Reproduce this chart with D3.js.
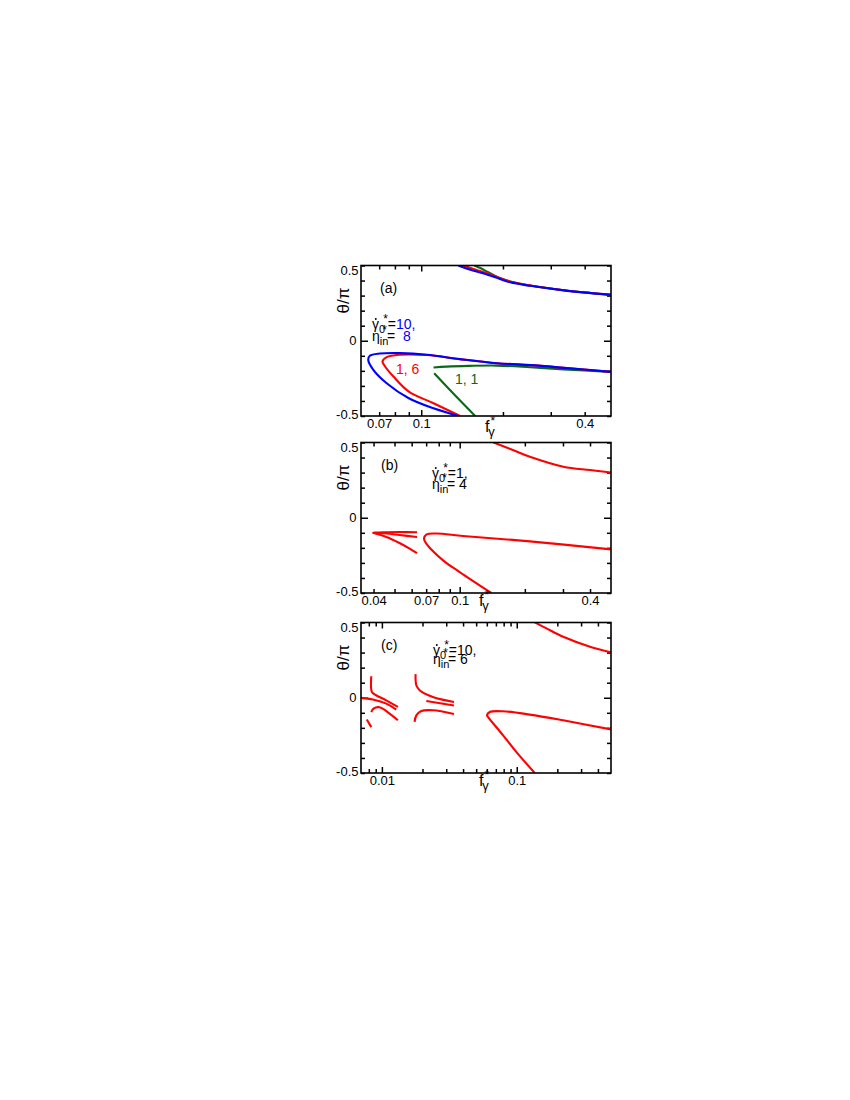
<!DOCTYPE html>
<html><head><meta charset="utf-8">
<script src="https://cdn.jsdelivr.net/npm/d3@7"></script>
<style>
body{margin:0;background:#fff}
svg{display:block}
text{font-family:"Liberation Sans",Arial,Helvetica,sans-serif}
</style>
</head><body>
<svg id="chart" width="850" height="1100"></svg>
<script>
// ---------------- data ----------------
const thetaTicks = [-0.5,-0.4,-0.3,-0.2,-0.1,0,0.1,0.2,0.3,0.4,0.5];
const thetaLabels = [-0.5,0,0.5];
const majorF = [0.01,0.1];

const aDomain = [0.06,0.5];
const aTicks = [0.07,0.08,0.09,0.1,0.2,0.3,0.4];
const aLabels = [0.07,0.1,0.4];
const bDomain = [0.035,0.5];
const bTicks = [0.04,0.05,0.06,0.07,0.08,0.09,0.1,0.2,0.3,0.4];
const bLabels = [0.04,0.07,0.1,0.4];
const cDomain = [0.007,0.5];
const cTicks = [0.008,0.009,0.01,0.02,0.03,0.04,0.05,0.06,0.07,0.08,0.09,0.1,0.2,0.3,0.4];
const cLabels = [0.01,0.1];

// panel (a): [f*, theta/pi]
const aGreenUpper = [[0.157,0.5],[0.165,0.483],[0.175,0.459],[0.185,0.436],[0.197,0.414],[0.215,0.392],[0.252,0.367],[0.335,0.336],[0.5,0.305]];
const aRedUpper   = [[0.143,0.5],[0.151,0.485],[0.16,0.47],[0.172,0.452],[0.19,0.424],[0.2128,0.392],[0.252,0.367],[0.335,0.336],[0.5,0.306]];
const aBlueUpper  = [[0.137,0.5],[0.145,0.483],[0.155,0.467],[0.17,0.447],[0.19,0.418],[0.2128,0.388],[0.252,0.365],[0.335,0.335],[0.5,0.305]];
const aGreenFlat  = [[0.111,-0.178],[0.124,-0.172],[0.15,-0.167],[0.19,-0.165],[0.252,-0.176],[0.335,-0.19],[0.5,-0.207]];
const aGreenSteep = [[0.1116,-0.216],[0.131,-0.349],[0.158,-0.5]];
const aRedFold    = [[0.139,-0.5],[0.111,-0.415],[0.09,-0.338],[0.079,-0.238],[0.0736,-0.171],[0.072,-0.138],[0.0746,-0.109],[0.0836,-0.093],[0.105,-0.095],[0.139,-0.122],[0.19,-0.149],[0.252,-0.162],[0.335,-0.18],[0.5,-0.207]];
const aBlueFold   = [[0.137,-0.5],[0.111,-0.449],[0.09,-0.382],[0.0746,-0.282],[0.0666,-0.193],[0.0638,-0.127],[0.0647,-0.1],[0.0705,-0.085],[0.0836,-0.082],[0.105,-0.093],[0.139,-0.122],[0.19,-0.149],[0.252,-0.162],[0.335,-0.18],[0.5,-0.207]];

// panel (b)
const bUpper     = [[0.1426,0.501],[0.176,0.45],[0.211,0.405],[0.301,0.339],[0.4,0.317],[0.5,0.301]];
const bRightFold = [[0.14,-0.5],[0.1,-0.361],[0.0838,-0.283],[0.0701,-0.172],[0.0684,-0.139],[0.0701,-0.112],[0.078,-0.105],[0.1036,-0.121],[0.211,-0.157],[0.5,-0.21]];
const bLeftFold  = [[0.0635,-0.096],[0.0527,-0.095],[0.0458,-0.096],[0.0397,-0.099],[0.0458,-0.105],[0.0527,-0.115],[0.0635,-0.128]];
const bLeftLower = [[0.0397,-0.1],[0.0458,-0.128],[0.0527,-0.168],[0.0587,-0.205],[0.0635,-0.235]];

// panel (c)
const cUpper     = [[0.136,0.501],[0.166,0.461],[0.221,0.405],[0.349,0.339],[0.5,0.301]];
const cRightFold = [[0.136,-0.5],[0.0995,-0.361],[0.0792,-0.25],[0.0613,-0.128],[0.0602,-0.117],[0.0631,-0.095],[0.0792,-0.09],[0.125,-0.112],[0.221,-0.15],[0.5,-0.21]];
const cA = [[0.00834,0.143],[0.00842,0.039],[0.00882,0.023],[0.01077,-0.017],[0.01314,-0.061]];
const cB = [[0.00701,-0.001],[0.00857,-0.012],[0.01077,-0.039],[0.01278,-0.079]];
const cC = [[0.00834,-0.095],[0.00867,-0.072],[0.0096,-0.063],[0.0114,-0.105],[0.01314,-0.15]];
const cD = [[0.00773,-0.145],[0.00834,-0.195]];
const cE = [[0.01778,0.157],[0.018,0.083],[0.01904,0.05],[0.0239,0.005],[0.03424,-0.028]];
const cF = [[0.02136,-0.021],[0.03424,-0.052]];
const cG = [[0.01748,-0.161],[0.018,-0.117],[0.0196,-0.088],[0.0239,-0.083],[0.03424,-0.108]];

// ---------------- drawing ----------------
const RED = "#ff0000", BLUE = "#0000ff", GREEN = "#0a6a14";
const svg = d3.select("#chart");
const L = 361, R = 611;

function panel(id, top, bottom, domain, ticks, labels, curves) {
  const x = d3.scaleLog().domain(domain).range([L, R]);
  const y = d3.scaleLinear().domain([-0.5, 0.5]).range([bottom, top]);
  const g = svg.append("g");
  const fmt = d => labels.includes(d) ? String(d) : "";

  svg.append("clipPath").attr("id", "clip" + id)
    .append("rect").attr("x", L).attr("y", top).attr("width", R - L).attr("height", bottom - top);

  const gb = g.append("g").attr("transform", `translate(0,${bottom})`)
    .call(d3.axisBottom(x).tickValues(ticks).tickFormat(fmt).tickSizeInner(-4).tickSizeOuter(0).tickPadding(3));
  const gt = g.append("g").attr("transform", `translate(0,${top})`)
    .call(d3.axisTop(x).tickValues(ticks).tickFormat("").tickSizeInner(-4).tickSizeOuter(0));
  gb.selectAll(".tick line").filter(d => majorF.includes(d)).attr("y2", -6);
  gt.selectAll(".tick line").filter(d => majorF.includes(d)).attr("y2", 6);

  const gl = g.append("g").attr("transform", `translate(${L},0)`)
    .call(d3.axisLeft(y).tickValues(thetaTicks).tickFormat(d => thetaLabels.includes(d) ? String(d) : "").tickSizeInner(-4).tickSizeOuter(0).tickPadding(2.5));
  gl.selectAll(".tick line").filter(d => d === 0).attr("x2", 7);
  gl.selectAll(".tick text").filter(d => d === 0.5).attr("dy", "0.68em");
  gl.selectAll(".tick text").filter(d => d === -0.5).attr("dy", "0.2em");
  gl.selectAll(".tick text").filter(d => d === 0).attr("x", -4.5);
  const gr = g.append("g").attr("transform", `translate(${R},0)`)
    .call(d3.axisRight(y).tickValues(thetaTicks).tickFormat("").tickSizeInner(-4).tickSizeOuter(0));
  gr.selectAll(".tick line").filter(d => d === 0).attr("x2", -7);

  g.selectAll(".domain").remove();
  g.selectAll(".tick line").attr("stroke", "#000").attr("stroke-width", 1.5);
  g.selectAll(".tick text").attr("font-size", 13).attr("font-family", '"Liberation Sans",Arial,sans-serif').attr("fill", "#000");

  const line = d3.line().x(d => x(d[0])).y(d => y(d[1])).curve(d3.curveCatmullRom.alpha(0.5));
  const cg = svg.append("g").attr("clip-path", `url(#clip${id})`);
  curves.forEach(c => {
    cg.append("path").attr("d", line(c.data)).attr("fill", "none")
      .attr("stroke", c.color).attr("stroke-width", 2.1).attr("stroke-linejoin", "round");
  });

  svg.append("rect").attr("x", L).attr("y", top).attr("width", R - L).attr("height", bottom - top)
    .attr("fill", "none").attr("stroke", "#000").attr("stroke-width", 1.6);

  svg.append("text").attr("transform", `translate(348.5,${top + 35}) rotate(-90)`)
    .attr("text-anchor", "middle").attr("font-size", 17).attr("fill", "#000").text("θ/π");

  const xl = svg.append("text").attr("x", id === "a" ? 485 : 479).attr("y", bottom + (id === "a" ? 16 : 13)).attr("font-size", 16).attr("fill", "#000");
  xl.append("tspan").text("f");
  xl.append("tspan").attr("dy", -7).attr("dx", 1).attr("font-size", 12).text("*");
  xl.append("tspan").attr("dy", 11).attr("dx", -7).attr("font-size", 13).text("γ");
}

panel("a", 265.5, 416, aDomain, aTicks, aLabels, [
  {data: aGreenUpper, color: GREEN}, {data: aRedUpper, color: RED}, {data: aBlueUpper, color: BLUE},
  {data: aGreenFlat, color: GREEN}, {data: aGreenSteep, color: GREEN},
  {data: aRedFold, color: RED}, {data: aBlueFold, color: BLUE}
]);
panel("b", 442.5, 593, bDomain, bTicks, bLabels, [
  {data: bUpper, color: RED}, {data: bRightFold, color: RED}, {data: bLeftFold, color: RED}, {data: bLeftLower, color: RED}
]);
panel("c", 622.5, 773, cDomain, cTicks, cLabels, [
  {data: cUpper, color: RED}, {data: cRightFold, color: RED},
  {data: cA, color: RED}, {data: cB, color: RED}, {data: cC, color: RED}, {data: cD, color: RED},
  {data: cE, color: RED}, {data: cF, color: RED}, {data: cG, color: RED}
]);

[["(a)", 380, 293], ["(b)", 381, 470], ["(c)", 381, 650]].forEach(([t, x, y]) => {
  svg.append("text").attr("x", x).attr("y", y).attr("font-size", 14).attr("fill", "#000").text(t);
});

function gammaLine(x, y, val, col) {
  const t = svg.append("text").attr("x", x).attr("y", y).attr("font-size", 14).attr("fill", "#000");
  t.append("tspan").text("γ");
  t.append("tspan").attr("dy", 4).attr("font-size", 11).text("0");
  t.append("tspan").attr("dx", -2).attr("dy", -10).attr("font-size", 12).text("*");
  t.append("tspan").attr("dy", 6).text("=");
  t.append("tspan").attr("fill", col).text(val);
  svg.append("circle").attr("cx", x + 3.8).attr("cy", y - 10).attr("r", 0.95).attr("fill", "#000");
}
function etaLine(x, y, val, col) {
  const t = svg.append("text").attr("x", x).attr("y", y).attr("font-size", 14).attr("fill", "#000");
  t.append("tspan").text("η");
  t.append("tspan").attr("dy", 4).attr("font-size", 11).text("in");
  t.append("tspan").attr("dx", -6).attr("dy", -11).attr("font-size", 12).text("*");
  t.append("tspan").attr("dy", 7).text("=");
  t.append("tspan").attr("fill", col).attr("xml:space", "preserve").text(val);
}
gammaLine(372, 329, "10,", BLUE);
etaLine(372, 341, "\u00a0 8", BLUE);
gammaLine(432, 478, "1,", "#000");
etaLine(432, 489, " 4", "#000");
gammaLine(433, 655, "10,", "#000");
etaLine(433, 664, " 6", "#000");

svg.append("text").attr("x", 396).attr("y", 374).attr("font-size", 14).attr("fill", RED).text("1, 6");
svg.append("text").attr("x", 455).attr("y", 384).attr("font-size", 14).attr("fill", GREEN).text("1, 1");
</script>
</body></html>
